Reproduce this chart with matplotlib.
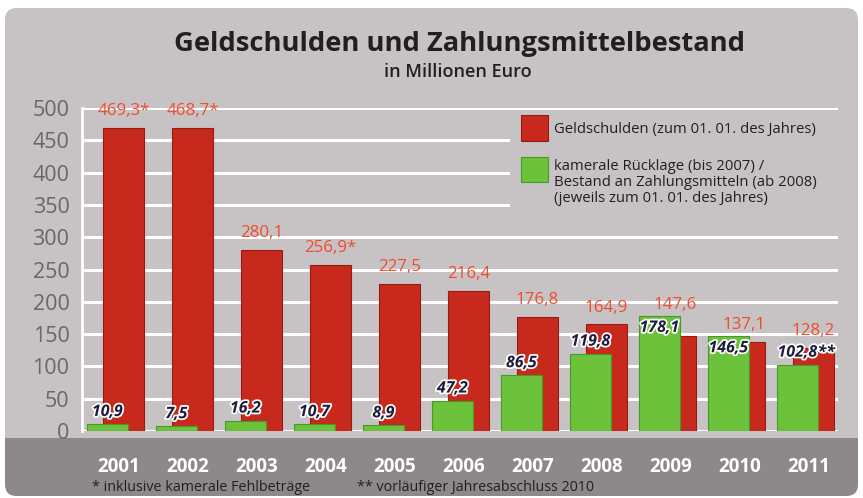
import matplotlib
matplotlib.use("Agg")
import matplotlib.pyplot as plt
import matplotlib.patheffects as pe
from matplotlib.patches import FancyBboxPatch, Rectangle

# ---- data -------------------------------------------------------------
years = ["2001", "2002", "2003", "2004", "2005", "2006",
         "2007", "2008", "2009", "2010", "2011"]
debt = [469.3, 468.7, 280.1, 256.9, 227.5, 216.4, 176.8, 164.9, 147.6, 137.1, 128.2]
debt_notes = ["*", "*", "", "*", "", "", "", "", "", "", ""]
reserve = [10.9, 7.5, 16.2, 10.7, 8.9, 47.2, 86.5, 119.8, 178.1, 146.5, 102.8]
reserve_notes = ["", "", "", "", "", "", "", "", "", "", "**"]
yticks = [0, 50, 100, 150, 200, 250, 300, 350, 400, 450, 500]

# ---- style ------------------------------------------------------------
W, H = 863, 498
PANEL = "#c7c3c5"
BAND = "#8d898b"
RED = "#c8291d"
RED_EDGE = "#98190f"
RED_TXT = "#f04b2c"
GREEN = "#6cc23b"
GREEN_EDGE = "#469a26"
NAVY = "#1c1c3c"
DARK = "#231f20"
plt.rcParams["font.family"] = ["Open Sans", "DejaVu Sans"]


def fmt(v):
    return f"{v:.1f}".replace(".", ",")


fig = plt.figure(figsize=(W / 100, H / 100), dpi=100)
fig.patch.set_facecolor("white")

# background panel and bottom band (pixel coordinates)
bg = fig.add_axes([0, 0, 1, 1], zorder=0)
bg.set_xlim(0, W)
bg.set_ylim(H, 0)
bg.axis("off")
panel = FancyBboxPatch((5, 8), 853, 488, boxstyle="round,pad=0,rounding_size=12",
                       fc=PANEL, ec="none")
bg.add_patch(panel)
band = Rectangle((0, 438), W, 70, fc=BAND, ec="none")
band.set_clip_path(panel)
bg.add_patch(band)

# ---- main chart -------------------------------------------------------
ax = fig.add_axes([82 / W, (H - 431) / H, 756 / W, 323 / H], zorder=1)
ax.set_facecolor("none")
x = list(range(len(years)))
bw = 0.594
x_red = [i + 0.065 for i in x]
x_green = [i - 0.167 for i in x]

ax.bar(x_red, debt, width=bw, color=RED, edgecolor=RED_EDGE, linewidth=0.8, zorder=2)
ax.bar(x_green, reserve, width=bw, color=GREEN, edgecolor=GREEN_EDGE, linewidth=0.8, zorder=3)

ax.set_xlim(-0.536, 10.42)
ax.set_ylim(0, 500)
ax.set_yticks(yticks)
ax.set_yticklabels([str(t) for t in yticks])
ax.set_xticks(x)
ax.set_xticklabels(years)
ax.yaxis.grid(True, color="white", linewidth=2.2)
ax.set_axisbelow(True)
for s in ["top", "right", "bottom"]:
    ax.spines[s].set_visible(False)
ax.spines["left"].set_color("white")
ax.spines["left"].set_linewidth(2)
ax.spines["left"].set_zorder(0.5)
ax.tick_params(axis="y", length=0, pad=9, labelsize=15.5, labelcolor="#6b6768")
ax.tick_params(axis="x", length=0, pad=18.5, labelsize=13.5, labelcolor="white")
for lbl in ax.get_yticklabels():
    lbl.set_fontweight("medium")
for lbl in ax.get_xticklabels():
    lbl.set_fontweight("bold")

# value labels
halo = [pe.withStroke(linewidth=2.5, foreground="white")]
for xr, xg, d, dn, r, rn in zip(x_red, x_green, debt, debt_notes, reserve, reserve_notes):
    if r > d:
        ax.annotate(fmt(d) + dn, xy=(xr, r), xytext=(0, 8), textcoords="offset points",
                    ha="center", va="center", color=RED_TXT, fontsize=12.2,
                    fontweight="medium", zorder=5)
    else:
        ax.annotate(fmt(d) + dn, xy=(xr, d), xytext=(0, 12.2), textcoords="offset points",
                    ha="center", va="center", color=RED_TXT, fontsize=12.2,
                    fontweight="medium", zorder=5)
    off = -8.6 if r > 140 else 8.6
    t = ax.annotate(fmt(r), xy=(xg, r), xytext=(0, off), textcoords="offset points",
                    ha="center", va="center", color=NAVY, fontsize=11.5,
                    fontweight="bold", fontstyle="italic", zorder=6, path_effects=halo)
    if rn:
        ax.annotate(rn, xy=(1, 0.5), xycoords=t, ha="left", va="center",
                    color=NAVY, fontsize=11.5, fontweight="bold", fontstyle="italic",
                    zorder=6, path_effects=halo)

# ---- overlay: titles, legend, footnotes --------------------------------
ov = fig.add_axes([0, 0, 1, 1], zorder=2)
ov.set_xlim(0, W)
ov.set_ylim(H, 0)
ov.axis("off")
ov.patch.set_alpha(0)

ov.text(459, 44, "Geldschulden und Zahlungsmittelbestand", ha="center", va="center",
        fontsize=19.7, fontweight="bold", color=DARK)
ov.text(458, 72, "in Millionen Euro", ha="center", va="center",
        fontsize=13, fontweight="semibold", color=DARK)

# legend block hides the grid lines behind it
ov.add_patch(Rectangle((510, 118), 330, 96, fc=PANEL, ec="none"))
ov.add_patch(Rectangle((521, 115), 27, 26, fc=RED, ec=RED_EDGE, lw=0.8))
ov.add_patch(Rectangle((521, 157), 27, 25, fc=GREEN, ec=GREEN_EDGE, lw=0.8))
leg_kw = dict(ha="left", va="center", fontsize=10.7, fontweight="medium", color=DARK)
ov.text(554, 129, "Geldschulden (zum 01. 01. des Jahres)", **leg_kw)
ov.text(554, 166, "kamerale Rücklage (bis 2007) /", **leg_kw)
ov.text(554, 182, "Bestand an Zahlungsmitteln (ab 2008)", **leg_kw)
ov.text(554, 198, "(jeweils zum 01. 01. des Jahres)", **leg_kw)

foot_kw = dict(ha="left", va="center", fontsize=10.3, fontweight="medium", color=DARK)
ov.text(92, 487, "* inklusive kamerale Fehlbeträge", **foot_kw)
ov.text(357, 487, "** vorläufiger Jahresabschluss 2010", **foot_kw)

fig.savefig("out.png", dpi=100)
